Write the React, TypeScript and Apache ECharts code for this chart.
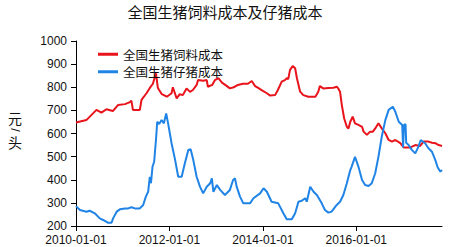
import React, { useEffect, useRef } from "react";
import * as echarts from "echarts";

const titleText = "全国生猪饲料成本及仔猪成本";
const seriesNames = ["全国生猪饲料成本", "全国生猪仔猪成本"];
const yTicks = { min: 200, max: 1000, interval: 100 };
const xTickLabels = ["2010-01-01", "2012-01-01", "2014-01-01", "2016-01-01"];
const xRange = ["2010-01-01", "2017-11-01"];

const feedDates = [
  "2010-01-01", "2010-03-23", "2010-06-10", "2010-07-19", "2010-08-27", "2010-10-16", "2010-11-25",
  "2011-01-19", "2011-02-27", "2011-03-10", "2011-03-22", "2011-05-15", "2011-05-28", "2011-07-06",
  "2011-08-01", "2011-08-25", "2011-09-18", "2011-10-03", "2011-11-03", "2011-12-12", "2012-01-18",
  "2012-01-28", "2012-02-27", "2012-03-22", "2012-04-15", "2012-05-14", "2012-06-10", "2012-07-03",
  "2012-08-01", "2012-08-12", "2012-09-21", "2012-10-19", "2012-10-28", "2012-12-01", "2012-12-22",
  "2013-01-18", "2013-02-15", "2013-03-18", "2013-04-18", "2013-05-18", "2013-06-20", "2013-07-28",
  "2013-09-06", "2013-10-06", "2013-11-01", "2013-11-25", "2013-12-22", "2014-02-01", "2014-02-27",
  "2014-04-06", "2014-04-28", "2014-05-28", "2014-06-22", "2014-07-06", "2014-07-18", "2014-08-01",
  "2014-08-22", "2014-09-10", "2014-09-24", "2014-10-19", "2014-11-13", "2014-12-22", "2015-02-15",
  "2015-03-10", "2015-03-22", "2015-04-18", "2015-05-28", "2015-07-06", "2015-08-01", "2015-08-13",
  "2015-08-27", "2015-09-10", "2015-09-28", "2015-10-19", "2015-11-01", "2015-11-15", "2015-12-04",
  "2015-12-22", "2016-01-18", "2016-02-15", "2016-02-27", "2016-03-24", "2016-04-18", "2016-05-10",
  "2016-05-28", "2016-06-22", "2016-07-18", "2016-08-15", "2016-09-10", "2016-10-06", "2016-11-01",
  "2016-12-10", "2017-01-06", "2017-02-27", "2017-04-06", "2017-05-14", "2017-06-10", "2017-07-18",
  "2017-08-15", "2017-09-10", "2017-10-06", "2017-11-01",
];
const feedCost = [
  648, 658, 702, 690, 705, 697, 723,
  727, 736, 742, 702, 702, 745, 774,
  797, 815, 860, 797, 770, 759, 774,
  800, 752, 770, 766, 795, 780, 788,
  810, 831, 828, 831, 802, 810, 831,
  839, 820, 808, 795, 800, 810, 815,
  815, 827, 805, 797, 788, 774, 764,
  766, 788, 824, 831, 839, 835, 875,
  892, 882, 839, 781, 766, 759, 759,
  781, 805, 795, 797, 798, 802, 795,
  781, 723, 666, 629, 622, 651, 673,
  644, 637, 629, 608, 594, 608, 608,
  622, 644, 622, 601, 572, 565, 572,
  558, 540, 540, 550, 546, 565, 565,
  560, 558, 550, 546,
];

const pigletDates = [
  "2010-01-01", "2010-02-01", "2010-03-23", "2010-04-18", "2010-05-28", "2010-07-06", "2010-08-01",
  "2010-09-10", "2010-10-06", "2010-10-18", "2010-11-15", "2010-12-10", "2011-01-19", "2011-02-13",
  "2011-03-10", "2011-04-06", "2011-05-15", "2011-06-10", "2011-07-01", "2011-07-19", "2011-08-01",
  "2011-08-10", "2011-08-22", "2011-09-04", "2011-09-18", "2011-09-28", "2011-10-13", "2011-11-01",
  "2011-11-19", "2011-12-07", "2011-12-22", "2012-01-18", "2012-02-15", "2012-03-10", "2012-04-06",
  "2012-05-01", "2012-05-28", "2012-06-15", "2012-07-06", "2012-08-01", "2012-08-27", "2012-09-21",
  "2012-10-19", "2012-11-15", "2012-11-28", "2012-12-10", "2013-01-06", "2013-02-01", "2013-03-10",
  "2013-04-18", "2013-05-13", "2013-05-28", "2013-06-10", "2013-07-06", "2013-08-01", "2013-09-22",
  "2013-10-19", "2013-12-10", "2014-01-06", "2014-02-01", "2014-03-10", "2014-05-01", "2014-06-10",
  "2014-07-06", "2014-08-15", "2014-09-10", "2014-10-06", "2014-11-01", "2014-11-28", "2014-12-10",
  "2015-01-06", "2015-02-01", "2015-02-27", "2015-04-06", "2015-05-01", "2015-05-28", "2015-06-22",
  "2015-08-01", "2015-08-27", "2015-09-22", "2015-10-19", "2015-11-15", "2015-11-25", "2015-12-22",
  "2016-01-18", "2016-02-15", "2016-03-10", "2016-04-06", "2016-05-01", "2016-05-28", "2016-06-22",
  "2016-07-18", "2016-08-15", "2016-09-10", "2016-10-13", "2016-11-01", "2016-11-28", "2016-12-25",
  "2017-01-01", "2017-01-08", "2017-01-20", "2017-01-25", "2017-02-13", "2017-03-10", "2017-04-06",
  "2017-05-01", "2017-05-19", "2017-06-22", "2017-07-18", "2017-08-15", "2017-09-10", "2017-09-28",
  "2017-10-19", "2017-11-01",
];
const pigletCost = [
  286, 269, 262, 266, 255, 233, 226,
  214, 214, 233, 262, 272, 276, 276,
  281, 276, 276, 291, 327, 348, 413,
  385, 456, 478, 572, 651, 641, 658,
  644, 687, 644, 558, 485, 413, 413,
  471, 529, 532, 485, 413, 370, 341,
  370, 385, 406, 348, 377, 356, 334,
  356, 399, 406, 370, 327, 298, 298,
  320, 341, 363, 348, 305, 298, 255,
  229, 229, 255, 305, 309, 320, 305,
  370, 348, 334, 298, 269, 258, 262,
  291, 305, 334, 385, 442, 456, 499,
  456, 399, 377, 373, 385, 428, 499,
  586, 658, 702, 716, 694, 651, 637,
  540, 637, 640, 560, 550, 529, 514,
  543, 572, 558, 536, 521, 485, 454,
  435, 442,
];

const toTs = (s: string) => {
  const [y, m, d] = s.split("-").map(Number);
  return Date.UTC(y, m - 1, d);
};
const pad = (n: number) => (n < 10 ? "0" + n : "" + n);
const fmt = (v: number) => {
  const d = new Date(v);
  return `${d.getUTCFullYear()}-${pad(d.getUTCMonth() + 1)}-${pad(d.getUTCDate())}`;
};

const FONT = "'Liberation Sans', Arial, 'Noto Sans CJK SC', sans-serif";
const CJK = "'Noto Sans CJK SC', sans-serif";

export default function App() {
  const ref = useRef<HTMLDivElement>(null);
  useEffect(() => {
    if (!ref.current) return;
    const chart = echarts.init(ref.current, null, { renderer: "svg" });
    const tickTs = xTickLabels.map(toTs);
    chart.setOption({
      animation: false,
      backgroundColor: "#ffffff",
      title: {
        text: titleText,
        left: "center",
        top: -1,
        textStyle: { fontFamily: CJK, fontSize: 15, fontWeight: "normal", color: "#111" },
      },
      legend: {
        orient: "vertical",
        left: 93,
        top: 43,
        itemWidth: 20,
        itemHeight: 3,
        itemGap: 5,
        icon: "rect",
        textStyle: { fontFamily: CJK, fontSize: 12.5, lineHeight: 12, color: "#111" },
        data: seriesNames,
      },
      grid: { left: 76, right: 8, top: 41, bottom: 21, containLabel: false },
      xAxis: {
        type: "value",
        min: toTs(xRange[0]),
        max: toTs(xRange[1]),
        axisLine: { lineStyle: { color: "#000", width: 1 } },
        axisTick: { show: true, length: 5, customValues: tickTs, lineStyle: { color: "#000" } },
        axisLabel: {
          customValues: tickTs,
          formatter: (v: number) => fmt(v),
          fontFamily: FONT,
          fontSize: 12,
          color: "#111",
          margin: 8,
        },
        splitLine: { show: false },
      },
      yAxis: {
        type: "value",
        min: yTicks.min,
        max: yTicks.max,
        interval: yTicks.interval,
        axisLine: { show: true, lineStyle: { color: "#000", width: 1 } },
        axisTick: { show: true, length: 5, lineStyle: { color: "#000" } },
        axisLabel: {
          fontFamily: FONT,
          fontSize: 12,
          color: "#111",
          margin: 9,
          formatter: (v: number) => String(v),
        },
        splitLine: { show: false },
      },
      graphic: [
        { type: "text", left: 8, top: 111, style: { text: "元", font: `14px ${CJK}`, fill: "#111" } },
        {
          type: "text",
          x: 15,
          y: 130,
          rotation: -Math.PI / 2,
          style: { text: "/", font: `13px ${FONT}`, fill: "#111", align: "center", verticalAlign: "middle" },
        },
        { type: "text", left: 8, top: 135, style: { text: "头", font: `14px ${CJK}`, fill: "#111" } },
      ],
      series: [
        {
          name: seriesNames[0],
          type: "line",
          showSymbol: false,
          symbol: "none",
          lineStyle: { color: "#e8131b", width: 2 },
          itemStyle: { color: "#e8131b" },
          data: feedDates.map((d, i) => [toTs(d), feedCost[i]]),
        },
        {
          name: seriesNames[1],
          type: "line",
          showSymbol: false,
          symbol: "none",
          lineStyle: { color: "#1f84e6", width: 2 },
          itemStyle: { color: "#1f84e6" },
          data: pigletDates.map((d, i) => [toTs(d), pigletCost[i]]),
        },
      ],
    });
    return () => chart.dispose();
  }, []);
  return (
    <div
      ref={ref}
      style={{ position: "fixed", left: 0, top: 0, width: 450, height: 247, background: "#fff" }}
    />
  );
}
